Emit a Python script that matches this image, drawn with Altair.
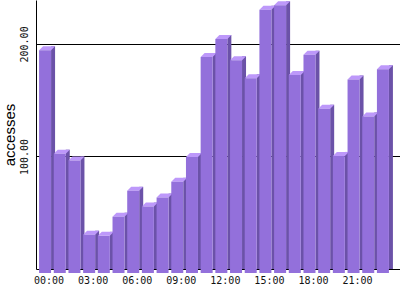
import altair as alt
import pandas as pd

hours = [f"{h:02d}:00" for h in range(24)]
accesses = [198, 106, 100, 34, 33, 50, 73, 59, 67, 81, 103, 192,
            208, 189, 173, 234, 238, 176, 194, 146, 104, 172, 139, 181]
tick_hours = ["00:00", "03:00", "06:00", "09:00", "12:00", "15:00", "18:00", "21:00"]
y_ticks = [100, 200]

df = pd.DataFrame({"hour": hours, "accesses": accesses})

FRONT = "#9370DB"
SIDE = "#6B52A8"
TOP = "#BD98FA"

x = alt.X("hour:N", sort=hours,
          scale=alt.Scale(paddingInner=0, paddingOuter=0.39),
          axis=alt.Axis(values=tick_hours, title=None, ticks=False, labelAngle=0,
                        labelFont="DejaVu Sans Mono", labelFontSize=10, labelColor="#111111",
                        labelPadding=6, domainColor="black", domainWidth=1, grid=False))
y = alt.Y("accesses:Q",
          scale=alt.Scale(domain=[0, 239], nice=False, zero=True),
          axis=alt.Axis(values=y_ticks, format=".2f", title="accesses", ticks=False,
                        labelAngle=270, labelAlign="center", labelBaseline="alphabetic",
                        labelFont="DejaVu Sans Mono", labelFontSize=10, labelColor="#111111",
                        labelPadding=9, domainColor="black", domainWidth=1,
                        grid=True, gridColor="black", gridOpacity=1, gridWidth=1,
                        titleFont="Liberation Sans", titleFontSize=15, titleFontWeight="normal",
                        titleColor="black", titleAngle=270, titleAlign="center",
                        titleBaseline="alphabetic", titleX=-22, titleY=134.5))

base = alt.Chart(df)

side = base.mark_bar(width=4, xOffset=4, y2Offset=4, color=SIDE, cornerRadius=0).encode(x=x, y=y)
top = base.mark_point(shape="M -0.5 -0.25 L 1 -0.25 L 0.5 0.25 L -1 0.25 Z", size=256,
                      filled=True, opacity=1, strokeWidth=0, color=TOP,
                      xOffset=-2, yOffset=2).encode(x=x, y=y)
front = base.mark_bar(width=12, xOffset=-4, yOffset=4, y2Offset=4, color=FRONT).encode(x=x, y=y)

chart = alt.layer(side, top, front).properties(
    width=364, height=269,
    padding={"left": 36, "top": 0, "right": 0, "bottom": 31},
    autosize=alt.AutoSizeParams(type="none"),
    background="white",
).configure_view(stroke=None)

chart.save("out.html", embed_options={"renderer": "svg", "actions": False})
